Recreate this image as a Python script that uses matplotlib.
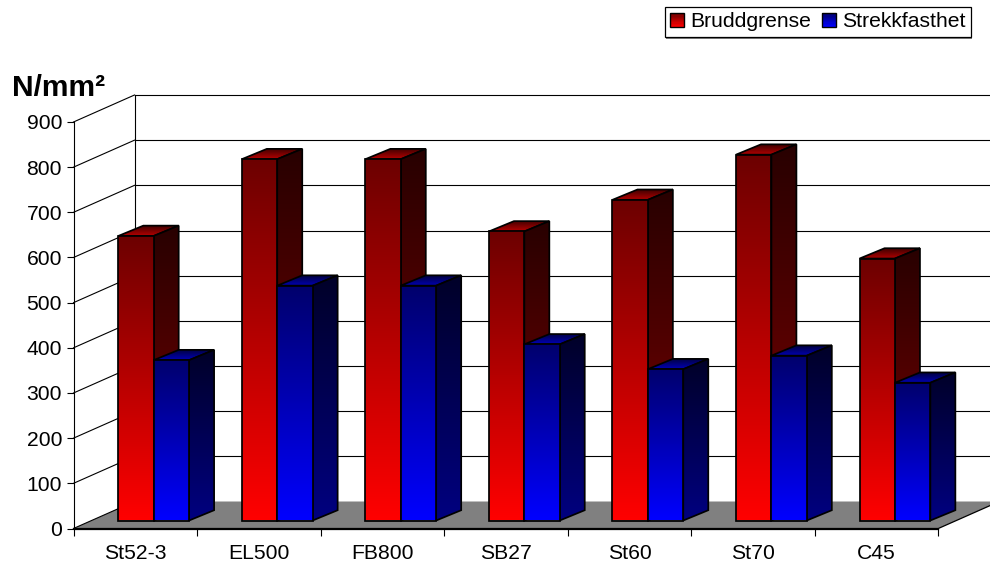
#!/usr/bin/env python3

import numpy as np
import matplotlib
matplotlib.use("Agg")
import matplotlib.pyplot as plt
from matplotlib.colors import LinearSegmentedColormap
from matplotlib.legend_handler import HandlerBase
from matplotlib.patches import Patch, Polygon, Rectangle

plt.rcParams["font.family"] = ["Liberation Sans", "DejaVu Sans"]

categories = ["St52-3", "EL500", "FB800", "SB27", "St60", "St70", "C45"]
bruddgrense = [630, 800, 800, 640, 710, 810, 580]
strekkfasthet = [355, 520, 520, 390, 335, 365, 305]
y_ticks = [0, 100, 200, 300, 400, 500, 600, 700, 800, 900]
series_names = ["Bruddgrense", "Strekkfasthet"]

W, H = 990, 565
X0, X1, Y0, Y1 = 73.5, 938.3, 528.5, 122
px_x = 7 / (X1 - X0)     # data units per pixel
px_y = 900 / (Y0 - Y1)

# 3d offsets of the wall and the bars
wall_dx, wall_dy = 61 * px_x, 27 * px_y
bar_dx, bar_dy = 25 * px_x, 10.3 * px_y
base_y = 8 * px_y
left_gap = 44.8 * px_x
bar_w = 35.4 * px_x

fig = plt.figure(figsize=(W / 100, H / 100), dpi=100)
ax = fig.add_axes([X0 / W, 1 - Y0 / H, (X1 - X0) / W, (Y0 - Y1) / H])


def grad(ax, pts, c_top, c_bottom):
    # vertical gradient clipped to a polygon
    pts = np.array(pts)
    cmap = LinearSegmentedColormap.from_list("g", [c_top, c_bottom])
    im = ax.imshow(np.linspace(0, 1, 128).reshape(-1, 1), cmap=cmap, aspect="auto",
                   extent=[pts[:, 0].min(), pts[:, 0].max(), pts[:, 1].min(), pts[:, 1].max()],
                   origin="upper", zorder=3)
    edge = Polygon(pts, closed=True, fc="none", ec="black", lw=1.25, zorder=3.1,
                   clip_on=False, joinstyle="miter")
    ax.add_patch(edge)
    im.set_clip_path(edge)
    im.set_clip_box(fig.bbox)
    # keep the stacking order: bars drawn later go on top
    grad.z += 0.01
    im.set_zorder(grad.z)
    grad.z += 0.01
    edge.set_zorder(grad.z)


grad.z = 3


def draw_bar(ax, x, val, cols):
    x0, x1 = x, x + bar_w
    y0, y1 = base_y, base_y + val
    front = [(x0, y0), (x1, y0), (x1, y1), (x0, y1)]
    side = [(x1, y0), (x1 + bar_dx, y0 + bar_dy), (x1 + bar_dx, y1 + bar_dy), (x1, y1)]
    top = [(x0, y1), (x1, y1), (x1 + bar_dx, y1 + bar_dy), (x0 + bar_dx, y1 + bar_dy)]
    grad(ax, top, cols["top_back"], cols["top_front"])
    grad(ax, side, cols["side_top"], cols["side_bottom"])
    grad(ax, front, cols["front_top"], cols["front_bottom"])


reds = {"top_back": "#3c0000", "top_front": "#b40000", "side_top": "#280000", "side_bottom": "#800000",
        "front_top": "#6c0000", "front_bottom": "#ff0000"}
blues = {"top_back": "#00003c", "top_front": "#0000b4", "side_top": "#000028", "side_bottom": "#000080",
         "front_top": "#00006c", "front_bottom": "#0000ff"}

# floor
ax.add_patch(Polygon([(0, 0), (7, 0), (7 + wall_dx, wall_dy), (wall_dx, wall_dy)], closed=True,
                     fc="#808080", ec="none", zorder=1, clip_on=False))
ax.plot([0, 7, 7 + wall_dx], [0, 0, wall_dy], color="black", lw=0.9, zorder=2, clip_on=False)

# grid on the left and back walls
for v in y_ticks:
    ax.plot([0, wall_dx], [v, v + wall_dy], color="black", lw=0.8, zorder=2, clip_on=False)
    if v > 0:
        ax.plot([wall_dx, 7 + wall_dx], [v + wall_dy, v + wall_dy], color="black", lw=0.8, zorder=2, clip_on=False)
ax.plot([wall_dx, wall_dx], [wall_dy, 900 + wall_dy], color="black", lw=0.8, zorder=2, clip_on=False)

for i in range(len(categories)):
    x = i + left_gap
    draw_bar(ax, x, bruddgrense[i], reds)
    draw_bar(ax, x + bar_w, strekkfasthet[i], blues)

ax.set_xlim(0, 7)
ax.set_ylim(0, 900)
ax.patch.set_visible(False)
for s in ["top", "right"]:
    ax.spines[s].set_visible(False)
ax.spines["left"].set_linewidth(0.8)
ax.spines["bottom"].set_linewidth(0.9)

ax.set_yticks(y_ticks)
ax.set_xticks(range(8))
ax.set_xticklabels([])
ax.set_xticks(np.arange(len(categories)) + 0.5, labels=categories, minor=True)
ax.tick_params(axis="x", which="major", length=5.2, width=0.8, direction="out")
ax.tick_params(axis="x", which="minor", length=0, pad=11.5, labelsize=15.2)
ax.tick_params(axis="y", length=5.2, width=0.8, direction="out", pad=3, labelsize=15.2)

fig.text(12 / W, 1 - 95.5 / H, "N/mm²", fontsize=21.5, fontweight="bold", color="black")


class GradHandler(HandlerBase):
    def __init__(self, c_top, c_bottom):
        super().__init__()
        self.c_top = c_top
        self.c_bottom = c_bottom

    def create_artists(self, legend, orig_handle, xdescent, ydescent, width, height, fontsize, trans):
        cmap = LinearSegmentedColormap.from_list("s", [self.c_top, self.c_bottom])
        n = 12
        arts = []
        side = 10
        y0 = (height - side) / 2 - ydescent
        for k in range(n):
            r = Rectangle((-xdescent, y0 + side * (n - k - 1) / n), side, side / n,
                          fc=cmap(k / (n - 1)), ec="none", transform=trans)
            arts.append(r)
        arts.append(Rectangle((-xdescent, y0), side, side, fc="none", ec="black", lw=1.0, transform=trans))
        return arts


h1 = Patch(label=series_names[0])
h2 = Patch(label=series_names[1])
leg = fig.legend(handles=[h1, h2], ncol=2, loc="upper right",
                 bbox_to_anchor=(971 / W, 1 - 7 / H), fontsize=15.2, frameon=True, fancybox=False,
                 edgecolor="black", framealpha=1, borderpad=0.26, handlelength=0.66,
                 handletextpad=0.3, columnspacing=0.5, borderaxespad=0,
                 handler_map={h1: GradHandler("#6c0000", "#ff0000"), h2: GradHandler("#00006c", "#0000ff")})
leg.get_frame().set_linewidth(0.9)
leg.set_zorder(5)

# thin grey drop shadow under the legend box
fig.add_artist(Rectangle((665.5 / W, 1 - 39 / H), 306.5 / W, 31 / H, fc="#808080", ec="none",
                         transform=fig.transFigure, zorder=4))

fig.savefig("out.png", dpi=100)
plt.close(fig)
